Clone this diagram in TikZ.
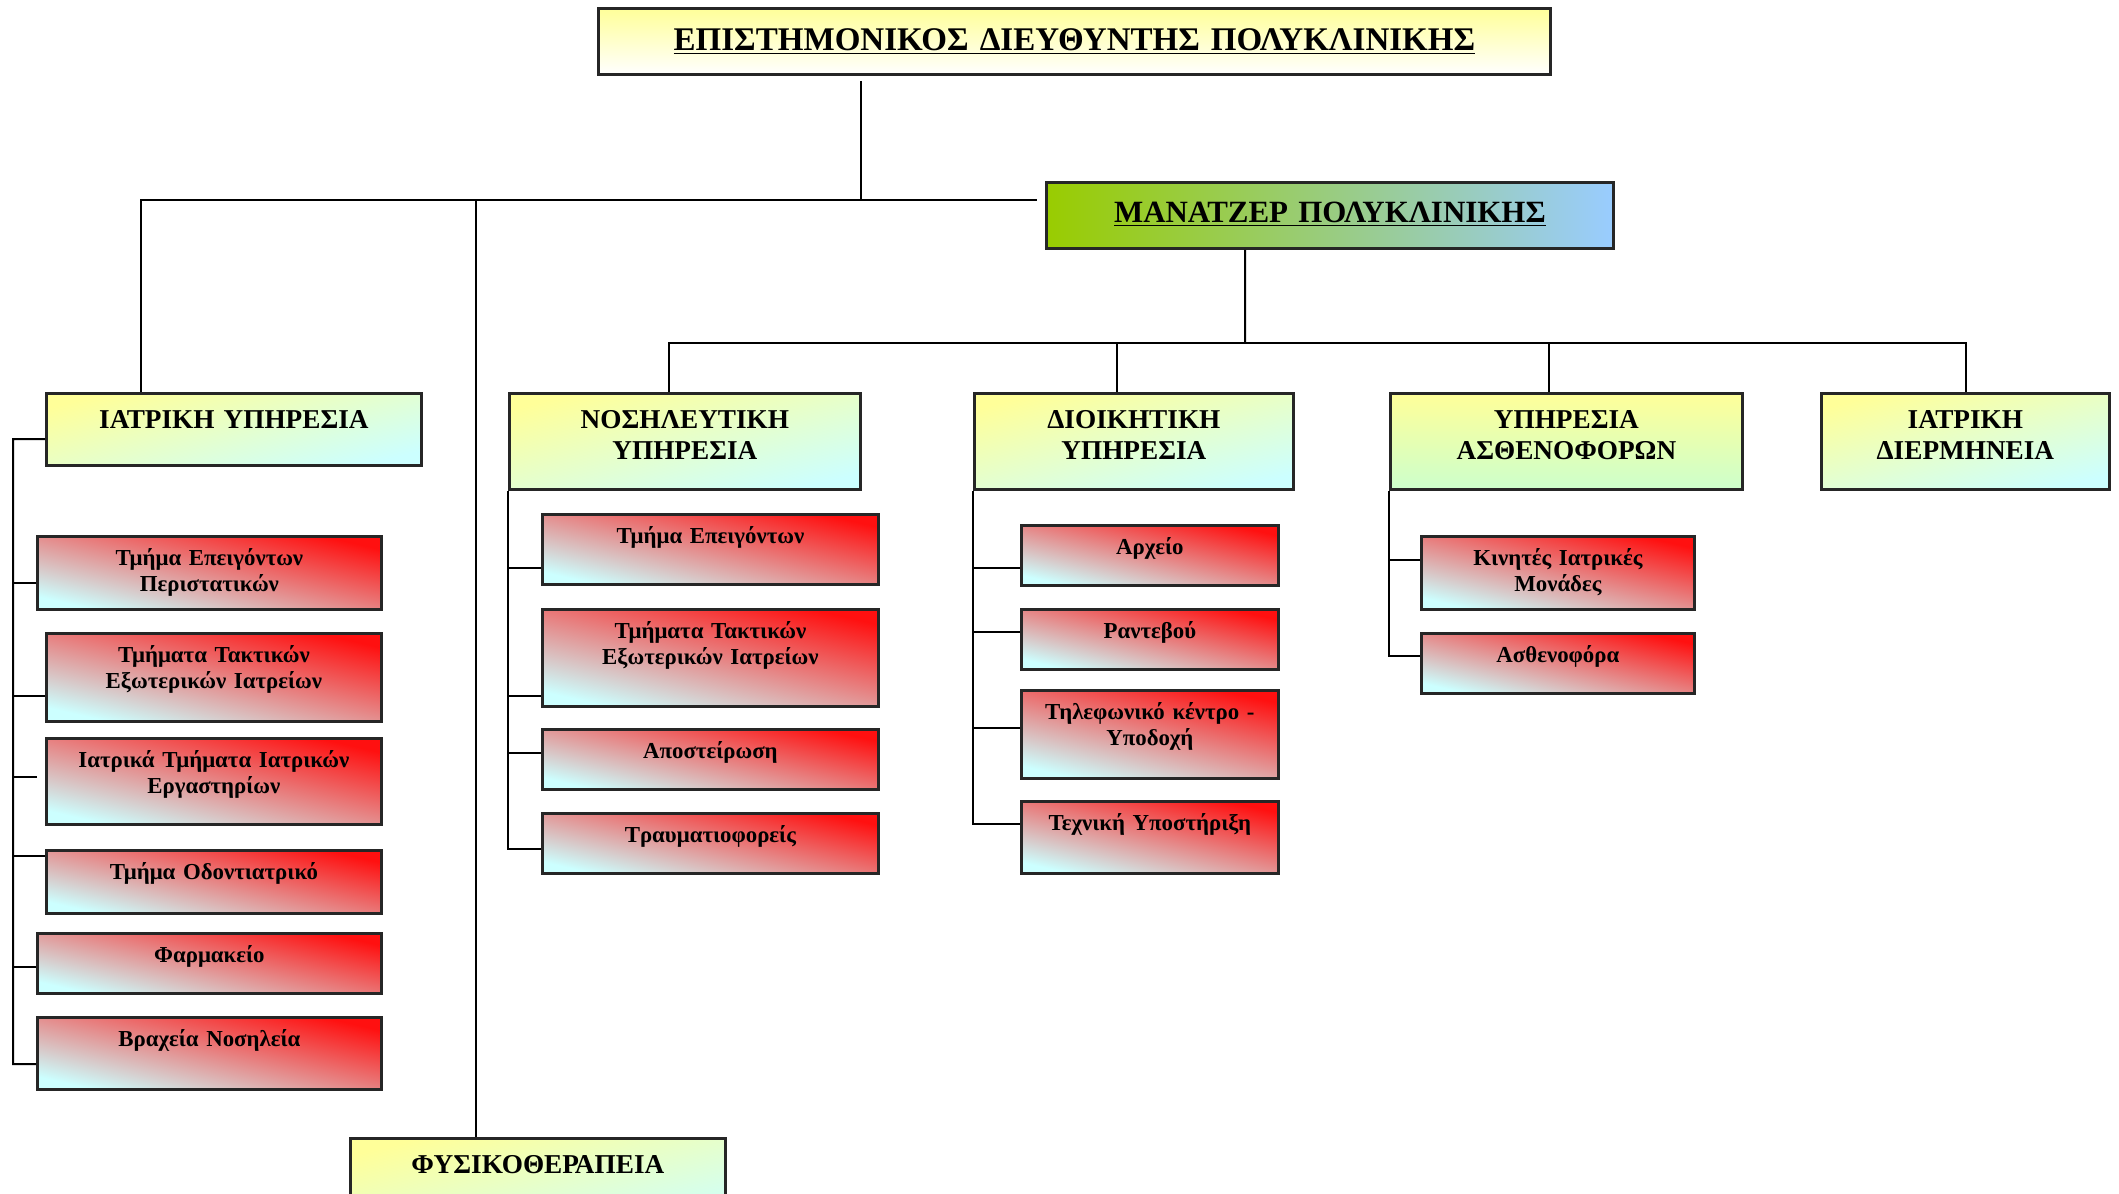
\documentclass[tikz,border=0pt]{standalone}
\usepackage{fontspec}
\setmainfont{Liberation Serif}
\usetikzlibrary{positioning, calc}
\definecolor{HeadYellow}{HTML}{FFFF99}
\definecolor{HeadCyan}{HTML}{CCFFFF}
\definecolor{HeadGreen}{HTML}{CCFFCC}
\definecolor{UnitRed}{HTML}{FF1010}
\definecolor{UnitMid}{HTML}{E4AEB0}
\definecolor{MgrGreen}{HTML}{99CC00}
\definecolor{MgrBlue}{HTML}{99CCFF}

\begin{document}
\begin{tikzpicture}[x=0.2mm, y=-0.2mm,
  link/.style={draw=black, line width=0.4mm},
  anybox/.style={draw=black!85, line width=0.55mm, anchor=north west,
                 inner sep=0pt, align=center},
  topbox/.style 2 args={anybox, text width=#1, text height=8.4mm, text depth=#2,
                 font=\fontsize{18.8}{22}\selectfont\bfseries},
  headbox/.style 2 args={anybox, text width=#1, text height=7mm, text depth=#2,
                 font=\fontsize{15.5}{17.6}\selectfont\bfseries,
                 top color=HeadYellow, bottom color=HeadCyan, shading angle=14},
  unitbox/.style 2 args={anybox, text width=#1, text height=5.8mm, text depth=#2,
                 font=\fontsize{13}{14.7}\selectfont\bfseries,
                 top color=UnitRed, middle color=UnitMid, bottom color=HeadCyan,
                 shading angle=-13}]
  \clip (0,0) rectangle (2119,1193);
  % directors
  \node[topbox={190.4mm}{4.8mm}, top color=HeadYellow, bottom color=white] (DIR) at (597,7)
       {\underline{ΕΠΙΣΤΗΜΟΝΙΚΟΣ ΔΙΕΥΘΥΝΤΗΣ ΠΟΛΥΚΛΙΝΙΚΗΣ}};
  \node[topbox={113.4mm}{5.1mm}, text height=8.1mm, font=\fontsize{17.6}{20}\selectfont\bfseries,
        left color=MgrGreen, right color=MgrBlue] (MGR) at (1045,181)
       {\underline{ΜΑΝΑΤΖΕΡ ΠΟΛΥΚΛΙΝΙΚΗΣ}};
  % services
  \node[headbox={75mm}{7.4mm}] (MED) at (45,392) {ΙΑΤΡΙΚΗ ΥΠΗΡΕΣΙΑ};
  \node[headbox={70.2mm}{12.2mm}] (NUR) at (508,392) {ΝΟΣΗΛΕΥΤΙΚΗ\\ ΥΠΗΡΕΣΙΑ};
  \node[headbox={63.8mm}{12.2mm}] (ADM) at (973,392) {ΔΙΟΙΚΗΤΙΚΗ\\ ΥΠΗΡΕΣΙΑ};
  \node[headbox={70.4mm}{12.2mm}, bottom color=HeadGreen] (AMB) at (1389,392) {ΥΠΗΡΕΣΙΑ\\ ΑΣΘΕΝΟΦΟΡΩΝ};
  \node[headbox={57.6mm}{12.2mm}] (INT) at (1820,392) {ΙΑΤΡΙΚΗ\\ ΔΙΕΡΜΗΝΕΙΑ};
  \node[headbox={75mm}{12.2mm}] (PHY) at (349,1137) {ΦΥΣΙΚΟΘΕΡΑΠΕΙΑ};
  % medical units
  \node[unitbox={68.8mm}{8.8mm}] (M1) at (36,535) {Τμήμα Επειγόντων\\ Περιστατικών};
  \node[unitbox={67mm}{11.8mm}] (M2) at (45,632) {Τμήματα Τακτικών\\ Εξωτερικών Ιατρείων};
  \node[unitbox={67mm}{11.4mm}] (M3) at (45,737) {Ιατρικά Τμήματα Ιατρικών\\ Εργαστηρίων};
  \node[unitbox={67mm}{6.8mm}] (M4) at (45,849) {Τμήμα Οδοντιατρικό};
  \node[unitbox={68.8mm}{6.2mm}] (M5) at (36,932) {Φαρμακείο};
  \node[unitbox={68.8mm}{8.6mm}] (M6) at (36,1016) {Βραχεία Νοσηλεία};
  % nursing units
  \node[unitbox={67.2mm}{8.2mm}] (N1) at (541,513) {Τμήμα Επειγόντων};
  \node[unitbox={67.2mm}{13.6mm}] (N2) at (541,608) {Τμήματα Τακτικών\\ Εξωτερικών Ιατρείων};
  \node[unitbox={67.2mm}{6.2mm}] (N3) at (541,728) {Αποστείρωση};
  \node[unitbox={67.2mm}{6.2mm}] (N4) at (541,812) {Τραυματιοφορείς};
  % administration units
  \node[unitbox={51.4mm}{6.2mm}] (A1) at (1020,524) {Αρχείο};
  \node[unitbox={51.4mm}{6.2mm}] (A2) at (1020,608) {Ραντεβού};
  \node[unitbox={51.4mm}{11.8mm}] (A3) at (1020,689) {Τηλεφωνικό κέντρο -\\ Υποδοχή};
  \node[unitbox={51.4mm}{8.6mm}] (A4) at (1020,800) {Τεχνική Υποστήριξη};
  % ambulance units
  \node[unitbox={54.6mm}{8.8mm}] (B1) at (1420,535) {Κινητές Ιατρικές\\ Μονάδες};
  \node[unitbox={54.6mm}{6.2mm}] (B2) at (1420,632) {Ασθενοφόρα};

  % top level links
  \coordinate (J0) at (861,200);
  \coordinate (J1) at (1245,343);
  \draw[link] ([yshift=-1mm]DIR.south -| J0) -- (J0);
  \draw[link] ([xshift=19.2mm]MED.north west) |- ([xshift=-1.6mm]MGR.west |- J0);
  \draw[link] ([xshift=25.4mm]PHY.north west) -- ([xshift=25.4mm]PHY.north west |- J0);
  \draw[link] ([xshift=40mm]MGR.south west) -- (J1);
  \draw[link] ([xshift=32.2mm]NUR.north west) |- (J1) -| ([xshift=29.2mm]INT.north west);
  \draw[link] ([xshift=28.8mm]ADM.north west) -- ([xshift=28.8mm]ADM.north west |- J1);
  \draw[link] ([xshift=32mm]AMB.north west) -- ([xshift=32mm]AMB.north west |- J1);
  % medical spine
  \coordinate (S1) at (13,1064);
  \draw[link] ([yshift=-9.4mm]MED.north west) -| (S1) -- ([yshift=-9.6mm]M6.north west);
  \draw[link] ([yshift=-9.6mm]M1.north west) -- ([yshift=-9.6mm]M1.north west -| S1);
  \draw[link] ([yshift=-12.8mm]M2.north west) -- ([yshift=-12.8mm]M2.north west -| S1);
  \draw[link] ([xshift=-1.6mm, yshift=-8mm]M3.north west) -- ([yshift=-8mm]M3.north west -| S1);
  \draw[link] ([yshift=-1.4mm]M4.north west) -- ([yshift=-1.4mm]M4.north west -| S1);
  \draw[link] ([yshift=-7mm]M5.north west) -- ([yshift=-7mm]M5.north west -| S1);
  % nursing spine
  \draw[link] (NUR.south west) |- ([yshift=-7.4mm]N4.north west);
  \draw[link] ([yshift=-11mm]N1.north west) -- ([yshift=-11mm]N1.north west -| NUR.west);
  \draw[link] ([yshift=-17.6mm]N2.north west) -- ([yshift=-17.6mm]N2.north west -| NUR.west);
  \draw[link] ([yshift=-5mm]N3.north west) -- ([yshift=-5mm]N3.north west -| NUR.west);
  % administration spine
  \draw[link] (ADM.south west) |- ([yshift=-4.8mm]A4.north west);
  \draw[link] ([yshift=-8.8mm]A1.north west) -- ([yshift=-8.8mm]A1.north west -| ADM.west);
  \draw[link] ([yshift=-4.8mm]A2.north west) -- ([yshift=-4.8mm]A2.north west -| ADM.west);
  \draw[link] ([yshift=-7.8mm]A3.north west) -- ([yshift=-7.8mm]A3.north west -| ADM.west);
  % ambulance spine
  \draw[link] (AMB.south west) |- ([yshift=-4.8mm]B2.north west);
  \draw[link] ([yshift=-5mm]B1.north west) -- ([yshift=-5mm]B1.north west -| AMB.west);
\end{tikzpicture}
\end{document}
